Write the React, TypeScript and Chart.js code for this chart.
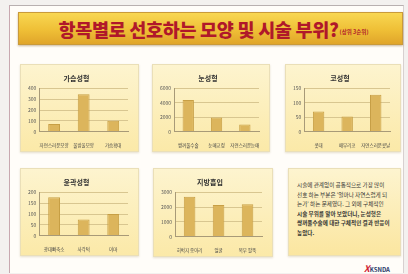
import React, { useEffect, useRef } from "react";
import { Chart, registerables } from "chart.js";

Chart.register(...registerables);

const FONT = "'Noto Sans CJK KR', 'Noto Sans', sans-serif";

// ---- data ----
const breastLabels = ["자연스러운모양", "물방울모양", "가슴확대"];
const breastValues = [70, 345, 100];
const breastTicks = { max: 400, step: 100 };

const eyeLabels = ["쌍꺼풀수술", "눈매교정", "자연스러운눈매"];
const eyeValues = [4400, 1950, 1000];
const eyeTicks = { max: 6000, step: 2000 };

const noseLabels = ["콧대", "매부리코", "자연스러운콧날"];
const noseValues = [70, 52, 128];
const noseTicks = { max: 150, step: 50 };

const contourLabels = ["광대뼈축소", "사각턱", "이마"];
const contourValues = [178, 74, 100];
const contourTicks = { max: 200, step: 50 };

const lipoLabels = ["허벅지 종아리", "얼굴", "복부 팔뚝"];
const lipoValues = [2700, 2150, 2200];
const lipoTicks = { max: 3000, step: 1000 };

type PanelProps = {
  title: string;
  labels: string[];
  values: number[];
  max: number;
  step: number;
  x: number;
  y: number;
  w: number;
  h: number;
};

function Panel({ title, labels, values, max, step, x, y, w, h }: PanelProps) {
  const ref = useRef<HTMLCanvasElement | null>(null);
  useEffect(() => {
    if (!ref.current) return;
    const chart = new Chart(ref.current, {
      type: "bar",
      data: {
        labels,
        datasets: [
          {
            data: values,
            backgroundColor: "#dcb55c",
            borderColor: "#c79f45",
            borderWidth: 1,
            barPercentage: 0.5,
            categoryPercentage: 0.8,
          },
        ],
      },
      options: {
        animation: false,
        responsive: false,
        maintainAspectRatio: false,
        layout: { padding: { left: 4, right: 10, top: 3, bottom: 0 } },
        plugins: {
          legend: { display: false },
          tooltip: { enabled: false },
          title: {
            display: true,
            text: title,
            color: "#333",
            font: { family: FONT, size: 7, weight: "bold" },
            padding: { top: 6, bottom: 6 },
          },
        },
        scales: {
          x: {
            grid: { display: false },
            border: { display: true, color: "#a89a78" },
            ticks: {
              color: "#444",
              font: { family: FONT, size: 4.5 },
              maxRotation: 0,
              autoSkip: false,
              padding: 3,
            },
          },
          y: {
            min: 0,
            max,
            ticks: {
              stepSize: step,
              color: "#555",
              font: { family: FONT, size: 5 },
              padding: 3,
              callback: (v: any) => String(v),
            },
            grid: { color: "#d8c690", drawTicks: false },
            border: { display: true, color: "#a89a78" },
          },
        },
      },
    });
    return () => chart.destroy();
  }, []);
  return (
    <div
      style={{
        position: "absolute",
        left: x,
        top: y,
        width: w,
        height: h,
        background: "linear-gradient(#fdf4cf, #fbe9a8)",
        border: "1px solid #eadfb8",
        boxShadow: "0 1px 2px rgba(150,130,80,0.25)",
        boxSizing: "border-box",
      }}
    >
      <canvas ref={ref} width={w - 2} height={h - 2} style={{ display: "block" }} />
    </div>
  );
}

const noteLines = [
  "시술에 관계없이 공통적으로 가장 많이",
  "선호 하는 부분은 '얼마나 자연스럽게 되",
  "는가' 하는 문제였다. 그 외에 구체적인",
  "시술 부위를 알아 보았더니, 눈성형은",
  "쌍꺼풀수술에 대한 구체적인 결과 반응이",
  "높았다.",
];

export default function App() {
  return (
    <div
      style={{
        position: "fixed",
        left: 0,
        top: 0,
        width: 408,
        height: 274,
        background: "#f3f1ef",
        overflow: "hidden",
        fontFamily: FONT,
      }}
    >
      <div
        style={{
          position: "absolute",
          left: 9,
          top: 5,
          width: 395,
          height: 268,
          background: "#fffdf9",
          borderTop: "1px solid #b8b0b0",
          borderLeft: "1px solid #c8a8b0",
          borderRight: "1px solid #d8d0d0",
          boxSizing: "border-box",
        }}
      />
      <div
        style={{
          position: "absolute",
          left: 18,
          top: 12,
          width: 385,
          height: 33,
          background: "linear-gradient(#f8d752, #efbf36 55%, #e0a52a)",
          border: "1px solid #c99a3a",
          boxShadow: "0 1px 2px rgba(120,80,20,0.4)",
          boxSizing: "border-box",
          display: "flex",
          alignItems: "center",
          justifyContent: "center",
          whiteSpace: "nowrap",
          paddingLeft: 6,
        }}
      >
        <span style={{ color: "#b0182a", fontSize: 18.5, fontWeight: 900, letterSpacing: -0.3 }}>
          항목별로 선호하는 모양 및 시술 부위?
        </span>
        <span style={{ color: "#b0182a", fontSize: 5.5, fontWeight: 700, marginLeft: 1, marginTop: 6 }}>
          (상위 3순위)
        </span>
      </div>

      <Panel title="가슴성형" labels={breastLabels} values={breastValues} max={breastTicks.max} step={breastTicks.step} x={20} y={64} w={119} h={88} />
      <Panel title="눈성형" labels={eyeLabels} values={eyeValues} max={eyeTicks.max} step={eyeTicks.step} x={152} y={64} w={118} h={88} />
      <Panel title="코성형" labels={noseLabels} values={noseValues} max={noseTicks.max} step={noseTicks.step} x={285} y={64} w={116} h={88} />
      <Panel title="윤곽성형" labels={contourLabels} values={contourValues} max={contourTicks.max} step={contourTicks.step} x={20} y={168} w={119} h={88} />
      <Panel title="지방흡입" labels={lipoLabels} values={lipoValues} max={lipoTicks.max} step={lipoTicks.step} x={153} y={168} w={120} h={89} />

      <div
        style={{
          position: "absolute",
          left: 288,
          top: 168,
          width: 113,
          height: 88,
          background: "linear-gradient(#fdf4cf, #fbe6a0)",
          border: "1px solid #eadfb8",
          boxShadow: "0 1px 2px rgba(150,130,80,0.25)",
          boxSizing: "border-box",
          padding: "12px 4px 0 8px",
          fontSize: 5.6,
          lineHeight: "9.6px",
          color: "#333",
          whiteSpace: "nowrap",
          overflow: "hidden",
        }}
      >
        {noteLines.map((l, i) => (
          <div key={i} style={{ fontWeight: i >= 3 ? 700 : 400 }}>{l}</div>
        ))}
      </div>

      <div
        style={{
          position: "absolute",
          left: 364,
          top: 262,
          fontSize: 6,
          fontWeight: 700,
          color: "#2a3a6a",
          whiteSpace: "nowrap",
        }}
      >
        <span style={{ color: "#d02030", fontSize: 9, fontStyle: "italic" }}>X</span>KSNDA
      </div>
    </div>
  );
}
